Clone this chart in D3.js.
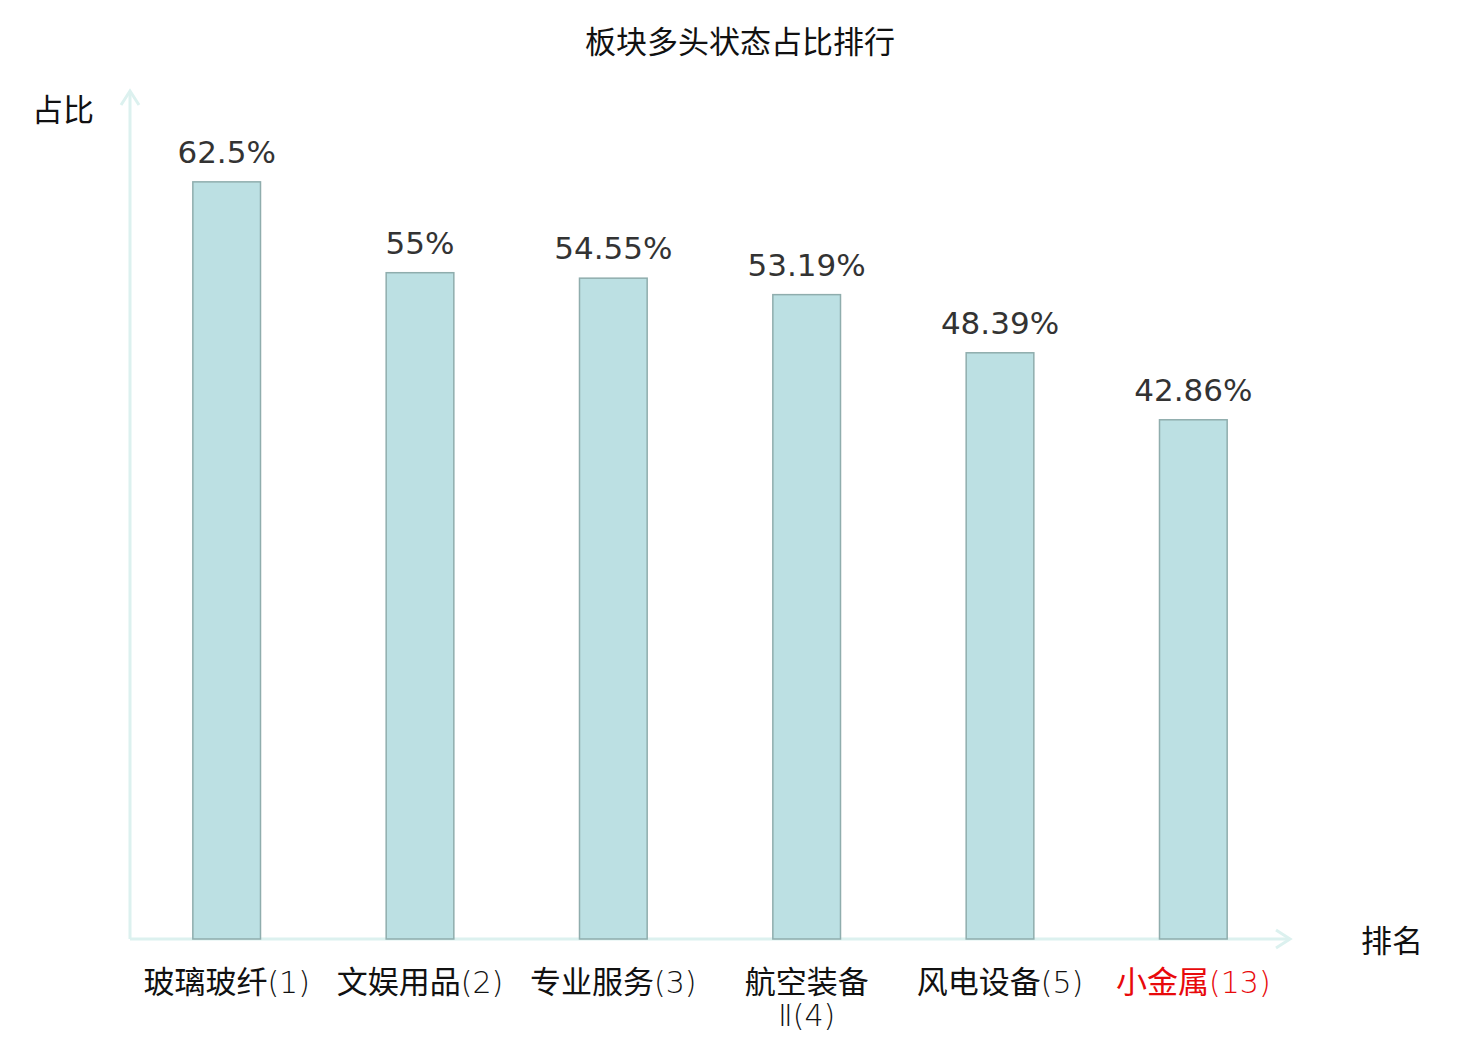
<!DOCTYPE html>
<html>
<head>
<meta charset="utf-8">
<script src="https://cdn.jsdelivr.net/npm/d3@7"></script>
<style>
  body { margin: 0; background: #fff; }
</style>
</head>
<body>
<div id="chart"></div>
<script>
const categories = ["玻璃玻纤(1)", "文娱用品(2)", "专业服务(3)", "航空装备Ⅱ(4)", "风电设备(5)", "小金属(13)"];
const labelLines = [["玻璃玻纤(1)"], ["文娱用品(2)"], ["专业服务(3)"], ["航空装备", "Ⅱ(4)"], ["风电设备(5)"], ["小金属(13)"]];
const values = [62.5, 55, 54.55, 53.19, 48.39, 42.86];
const valueLabels = ["62.5%", "55%", "54.55%", "53.19%", "48.39%", "42.86%"];
const highlight = "小金属(13)";
const yMax = 70;

const W = 1480, H = 1040;
const margin = { top: 91, right: 190, bottom: 101, left: 130 };
const cjk = "'Noto Sans CJK SC', 'Noto Sans', sans-serif";
const latin = "'DejaVu Sans ExtraLight', 'DejaVu Sans', sans-serif";

const svg = d3.select("#chart").append("svg")
    .attr("width", W)
    .attr("height", H)
    .style("background", "#fff");

const x = d3.scaleBand()
    .domain(categories)
    .range([margin.left, W - margin.right])
    .paddingInner(0.65)
    .paddingOuter(0.325);

const y = d3.scaleLinear()
    .domain([0, yMax])
    .range([H - margin.bottom, margin.top]);

const axisColor = "#dcf1ef";
const x0 = margin.left, y0 = H - margin.bottom;

// axes with arrows
svg.append("line")
    .attr("x1", x0).attr("y1", y0)
    .attr("x2", x0).attr("y2", margin.top)
    .attr("stroke", axisColor).attr("stroke-width", 3);
svg.append("path")
    .attr("d", `M${x0 - 9},${margin.top + 14} L${x0},${margin.top} L${x0 + 9},${margin.top + 14}`)
    .attr("fill", "none").attr("stroke", axisColor).attr("stroke-width", 3);

const xEnd = W - margin.right;
svg.append("line")
    .attr("x1", x0).attr("y1", y0)
    .attr("x2", xEnd).attr("y2", y0)
    .attr("stroke", axisColor).attr("stroke-width", 3);
svg.append("path")
    .attr("d", `M${xEnd - 14},${y0 - 9} L${xEnd},${y0} L${xEnd - 14},${y0 + 9}`)
    .attr("fill", "none").attr("stroke", axisColor).attr("stroke-width", 3);

// bars
svg.selectAll("rect.bar")
    .data(values)
    .enter()
    .append("rect")
    .attr("class", "bar")
    .attr("x", (d, i) => x(categories[i]))
    .attr("y", d => y(d))
    .attr("width", x.bandwidth())
    .attr("height", d => y(0) - y(d))
    .attr("fill", "#bce0e3")
    .attr("stroke", "#8fadad")
    .attr("stroke-width", 1.5);

// value labels
svg.selectAll("text.val")
    .data(values)
    .enter()
    .append("text")
    .attr("class", "val")
    .attr("x", (d, i) => x(categories[i]) + x.bandwidth() / 2)
    .attr("y", d => y(d) - 19)
    .attr("text-anchor", "middle")
    .style("font-family", "'DejaVu Sans', sans-serif")
    .style("font-size", "31px")
    .style("fill", "#333")
    .text((d, i) => valueLabels[i]);

// category labels: CJK part + latin part in a thinner face
labelLines.forEach((lines, i) => {
    const d = categories[i];
    lines.forEach((line, j) => {
        const t = svg.append("text")
            .attr("class", "cat")
            .attr("x", x(d) + x.bandwidth() / 2)
            .attr("y", y0 + 54 + j * 33)
            .attr("text-anchor", "middle")
            .style("font-size", "31px")
            .style("fill", d === highlight ? "#e8090b" : "#111");
        line.split(/(?=\()/).forEach(part => {
            const isLatin = /^[Ⅱ(]/.test(part);
            t.append("tspan")
                .style("font-family", isLatin ? latin : cjk)
                .style("font-weight", isLatin ? 200 : 400)
                .style("font-size", isLatin ? "30px" : "31px")
                .text(part);
        });
    });
});

// axis names
svg.append("text")
    .attr("x", 63).attr("y", 121)
    .attr("text-anchor", "middle")
    .style("font-family", cjk)
    .style("font-size", "31px")
    .style("fill", "#111")
    .text("占比");

svg.append("text")
    .attr("x", 1392).attr("y", 952)
    .attr("text-anchor", "middle")
    .style("font-family", cjk)
    .style("font-size", "31px")
    .style("fill", "#111")
    .text("排名");

// title
svg.append("text")
    .attr("x", W / 2).attr("y", 53)
    .attr("text-anchor", "middle")
    .style("font-family", cjk)
    .style("font-size", "31px")
    .style("fill", "#111")
    .text("板块多头状态占比排行");
</script>
</body>
</html>
